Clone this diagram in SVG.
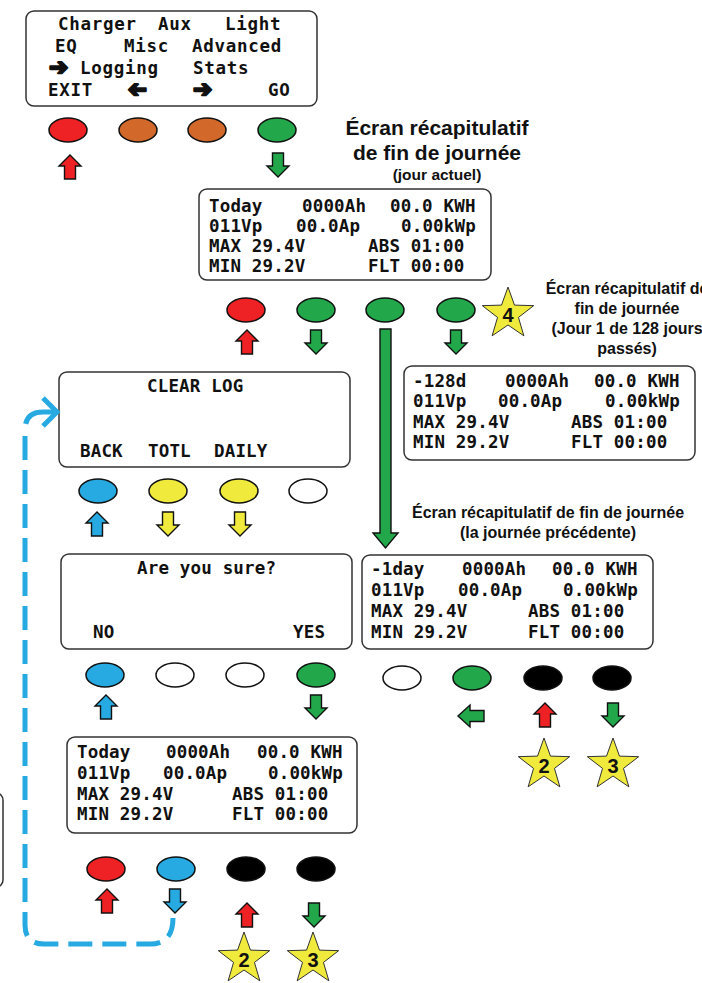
<svg xmlns="http://www.w3.org/2000/svg" xmlns:xlink="http://www.w3.org/1999/xlink" width="702" height="983" viewBox="0 0 702 983">
<style>
.box{fill:#fff;stroke:#333;stroke-width:1.5}
.lcd{font-family:"DejaVu Sans Mono","Liberation Mono",monospace;font-weight:bold;font-size:17.5px;letter-spacing:0.17px;fill:#111}
.lcdt{font-family:"DejaVu Sans Mono","Liberation Mono",monospace;font-weight:bold;font-size:17.5px;letter-spacing:0.7px;fill:#111}
.arr{font-family:"DejaVu Sans",sans-serif;font-weight:bold;font-size:23px;fill:#111;stroke:#111;stroke-width:2.2;stroke-linejoin:round}
.lbl{font-family:"Liberation Sans",Arial,sans-serif;font-weight:bold;fill:#111;text-anchor:middle}
.btn{stroke:#111;stroke-width:1.5}
.ba{stroke:#111;stroke-width:1.4;stroke-linejoin:miter}
.star{fill:#EFEA3C;stroke:#333;stroke-width:1}
.num{font-family:"Liberation Sans",Arial,sans-serif;font-weight:bold;font-size:20px;fill:#111;text-anchor:middle}
.red{fill:#EE2224}.org{fill:#D2692A}.grn{fill:#22A84B}.blu{fill:#27A9E1}.yel{fill:#EFEA3C}.wht{fill:#fff}.blk{fill:#000}
</style>
<defs>
<path id="up" d="M0,0 L11,11 L5.5,11 L5.5,24 L-5.5,24 L-5.5,11 L-11,11 Z"/>
<path id="dn" d="M-5.5,0 L5.5,0 L5.5,13 L11,13 L0,24 L-11,13 L-5.5,13 Z"/>
<path id="lf" d="M0,0 L12,-11 L12,-5.5 L26,-5.5 L26,5.5 L12,5.5 L12,11 Z"/>
<path id="star" d="M0,-27 L6.47,-8.9 L25.68,-8.34 L10.46,3.4 L15.87,21.84 L0,11 L-15.87,21.84 L-10.46,3.4 L-25.68,-8.34 L-6.47,-8.9 Z"/>
</defs>

<g id="menu-screen">
<rect class="box" x="26" y="11" width="291" height="95" rx="8"/>
<text class="lcdt" y="30"><tspan x="58">Charger</tspan><tspan x="158">Aux</tspan><tspan x="225">Light</tspan></text>
<text class="lcdt" y="52"><tspan x="55">EQ</tspan><tspan x="124">Misc</tspan><tspan x="192">Advanced</tspan></text>
<text class="arr" x="49" y="75">➔</text>
<text class="lcdt" y="74"><tspan x="80">Logging</tspan><tspan x="193">Stats</tspan></text>
<text class="lcdt" y="96"><tspan x="48">EXIT</tspan><tspan x="268">GO</tspan></text>
<text class="arr" transform="translate(147,97) scale(-1,1)" x="0" y="0">➔</text>
<text class="arr" x="193" y="97">➔</text>
</g>

<g id="menu-buttons">
<ellipse class="btn red" cx="68" cy="130" rx="19" ry="12"/>
<ellipse class="btn org" cx="138" cy="130" rx="19" ry="12"/>
<ellipse class="btn org" cx="207" cy="130" rx="19" ry="12"/>
<ellipse class="btn grn" cx="277" cy="130" rx="19" ry="12"/>
</g>

<g id="title-today">
<text class="lbl" x="437" y="135" font-size="21">Écran récapitulatif</text>
<text class="lbl" x="437" y="160" font-size="21">de fin de journée</text>
<text class="lbl" x="437" y="180" font-size="15.5">(jour actuel)</text>
</g>

<g id="today-screen">
<rect class="box" x="199" y="189" width="292" height="91" rx="8"/>
<text class="lcd" y="212"><tspan x="209">Today</tspan><tspan x="302">0000Ah</tspan><tspan x="390">00.0 KWH</tspan></text>
<text class="lcd" y="232"><tspan x="209">011Vp</tspan><tspan x="296">00.0Ap</tspan><tspan x="401">0.00kWp</tspan></text>
<text class="lcd" y="252"><tspan x="209">MAX 29.4V</tspan><tspan x="368">ABS 01:00</tspan></text>
<text class="lcd" y="272"><tspan x="209">MIN 29.2V</tspan><tspan x="368">FLT 00:00</tspan></text>
</g>

<g id="today-buttons">
<ellipse class="btn red" cx="246" cy="310" rx="19" ry="12"/>
<ellipse class="btn grn" cx="316" cy="310" rx="19" ry="12"/>
<ellipse class="btn grn" cx="385" cy="310" rx="19" ry="12"/>
<ellipse class="btn grn" cx="456" cy="310" rx="19" ry="12"/>
</g>

<g id="star-4">
<use href="#star" class="star" x="508" y="314"/>
<text class="num" x="508" y="322">4</text>
</g>

<g id="title-128">
<text class="lbl" x="627" y="294" font-size="16">Écran récapitulatif de</text>
<text class="lbl" x="627" y="314" font-size="16">fin de journée</text>
<text class="lbl" x="627" y="334" font-size="16">(Jour 1 de 128 jours</text>
<text class="lbl" x="627" y="354" font-size="16">passés)</text>
</g>

<g id="day128-screen">
<rect class="box" x="404" y="366" width="291" height="94" rx="8"/>
<text class="lcd" y="387"><tspan x="413">-128d</tspan><tspan x="505">0000Ah</tspan><tspan x="594">00.0 KWH</tspan></text>
<text class="lcd" y="407"><tspan x="413">011Vp</tspan><tspan x="498">00.0Ap</tspan><tspan x="605">0.00kWp</tspan></text>
<text class="lcd" y="428"><tspan x="413">MAX 29.4V</tspan><tspan x="571">ABS 01:00</tspan></text>
<text class="lcd" y="448"><tspan x="413">MIN 29.2V</tspan><tspan x="571">FLT 00:00</tspan></text>
</g>

<g id="clearlog-screen">
<rect class="box" x="59" y="372" width="291" height="95" rx="8"/>
<text class="lcd" x="147" y="392">CLEAR LOG</text>
<text class="lcd" y="457"><tspan x="80">BACK</tspan><tspan x="148">TOTL</tspan><tspan x="214">DAILY</tspan></text>
</g>

<g id="clearlog-buttons">
<ellipse class="btn blu" cx="98" cy="491" rx="19" ry="12"/>
<ellipse class="btn yel" cx="168" cy="491" rx="19" ry="12"/>
<ellipse class="btn yel" cx="239" cy="491" rx="19" ry="12"/>
<ellipse class="btn wht" cx="308" cy="491" rx="19" ry="12"/>
</g>

<g id="title-prev">
<text class="lbl" x="548" y="518" font-size="16">Écran récapitulatif de fin de journée</text>
<text class="lbl" x="548" y="538" font-size="16">(la journée précédente)</text>
</g>

<g id="confirm-screen">
<rect class="box" x="61" y="554" width="291" height="95" rx="8"/>
<text class="lcd" x="137" y="574">Are you sure?</text>
<text class="lcd" y="638"><tspan x="93">NO</tspan><tspan x="293">YES</tspan></text>
</g>

<g id="confirm-buttons">
<ellipse class="btn blu" cx="105" cy="675" rx="19" ry="12"/>
<ellipse class="btn wht" cx="175" cy="675" rx="19" ry="12"/>
<ellipse class="btn wht" cx="245" cy="675" rx="19" ry="12"/>
<ellipse class="btn grn" cx="316" cy="675" rx="19" ry="12"/>
</g>

<g id="prevday-screen">
<rect class="box" x="362" y="555" width="291" height="94" rx="8"/>
<text class="lcd" y="575"><tspan x="371">-1day</tspan><tspan x="462">0000Ah</tspan><tspan x="552">00.0 KWH</tspan></text>
<text class="lcd" y="596"><tspan x="371">011Vp</tspan><tspan x="458">00.0Ap</tspan><tspan x="563">0.00kWp</tspan></text>
<text class="lcd" y="617"><tspan x="371">MAX 29.4V</tspan><tspan x="528">ABS 01:00</tspan></text>
<text class="lcd" y="638"><tspan x="371">MIN 29.2V</tspan><tspan x="528">FLT 00:00</tspan></text>
</g>

<g id="prevday-buttons">
<ellipse class="btn wht" cx="402" cy="678" rx="19" ry="12"/>
<ellipse class="btn grn" cx="472" cy="678" rx="19" ry="12"/>
<ellipse class="btn blk" cx="543" cy="678" rx="19" ry="12"/>
<ellipse class="btn blk" cx="612" cy="678" rx="19" ry="12"/>
</g>

<g id="stars-right">
<use href="#star" class="star" x="544" y="765"/>
<text class="num" x="544" y="773">2</text>
<use href="#star" class="star" x="613" y="765"/>
<text class="num" x="613" y="773">3</text>
</g>

<g id="today2-screen">
<rect class="box" x="67" y="737" width="290" height="96" rx="8"/>
<text class="lcd" y="758"><tspan x="77">Today</tspan><tspan x="166">0000Ah</tspan><tspan x="257">00.0 KWH</tspan></text>
<text class="lcd" y="779"><tspan x="77">011Vp</tspan><tspan x="163">00.0Ap</tspan><tspan x="268">0.00kWp</tspan></text>
<text class="lcd" y="800"><tspan x="77">MAX 29.4V</tspan><tspan x="232">ABS 01:00</tspan></text>
<text class="lcd" y="820"><tspan x="77">MIN 29.2V</tspan><tspan x="232">FLT 00:00</tspan></text>
</g>

<g id="partial-screen">
<rect class="box" x="-290" y="793" width="293" height="94" rx="7"/>
</g>

<g id="today2-buttons">
<ellipse class="btn red" cx="106" cy="869" rx="19" ry="12"/>
<ellipse class="btn blu" cx="176" cy="869" rx="19" ry="12"/>
<ellipse class="btn blk" cx="246" cy="869" rx="19" ry="12"/>
<ellipse class="btn blk" cx="316" cy="869" rx="19" ry="12"/>
</g>

<g id="stars-bottom">
<use href="#star" class="star" x="244" y="959"/>
<text class="num" x="244" y="967">2</text>
<use href="#star" class="star" x="313" y="959"/>
<text class="num" x="313" y="967">3</text>
</g>

<g id="connectors">
<path d="M54,412 L43,412 Q25,412 25,430 L25,925 Q25,944 44,944 L150,944 Q173,944 173,918" fill="none" stroke="#27A9E1" stroke-width="5" stroke-dasharray="34 12 24 10 24 10 24 10 24 10 24 10 24 10 24 10 24 10 24 10 24 10 24 10 24 10 24 10 24 10 24 10 24 10 24 10 24 10 24 10 24 10 24 10 24 10"/>
<polyline points="43,398 57,412 43,426" fill="none" stroke="#27A9E1" stroke-width="5"/>
<use href="#up" class="ba red" x="70" y="155"/>
<use href="#dn" class="ba grn" x="278" y="153"/>
<use href="#up" class="ba red" x="247" y="330"/>
<use href="#dn" class="ba grn" x="316" y="330"/>
<use href="#dn" class="ba grn" x="456" y="330"/>
<path class="ba grn" d="M380,329 L391,329 L391,533 L398,533 L385.5,548 L373,533 L380,533 Z"/>
<use href="#up" class="ba blu" x="97" y="512"/>
<use href="#dn" class="ba yel" x="168" y="512"/>
<use href="#dn" class="ba yel" x="240" y="512"/>
<use href="#up" class="ba blu" x="106" y="695"/>
<use href="#dn" class="ba grn" x="316" y="695"/>
<use href="#lf" class="ba grn" x="458" y="716"/>
<use href="#up" class="ba red" x="545" y="703"/>
<use href="#dn" class="ba grn" x="613" y="703"/>
<use href="#up" class="ba red" x="107" y="889"/>
<use href="#dn" class="ba blu" x="175" y="889"/>
<use href="#up" class="ba red" x="247" y="903"/>
<use href="#dn" class="ba grn" x="314" y="903"/>
</g>
</svg>
